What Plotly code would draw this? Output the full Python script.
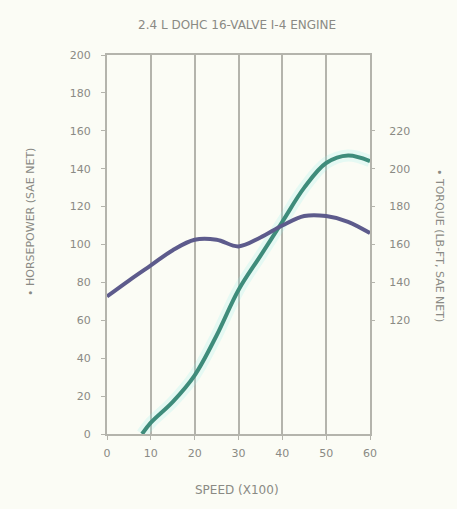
import plotly.graph_objects as go

# Data
rpm_hp = [8, 10, 15, 20, 25, 30, 35, 40, 45, 50, 55, 60]
horsepower = [0, 6, 17, 31, 52, 76, 94, 112, 130, 143, 147, 144]

rpm_tq = [0, 5, 10, 15, 20, 25, 30, 35, 40, 45, 50, 55, 60]
torque = [132.6, 141, 149, 157, 162.5, 162.5, 159, 163.7, 170, 175, 175, 172, 166]

x_ticks = [0, 10, 20, 30, 40, 50, 60]
hp_ticks = [0, 20, 40, 60, 80, 100, 120, 140, 160, 180, 200]
tq_ticks = [120, 140, 160, 180, 200, 220]

title_text = "2.4 L DOHC 16-VALVE I-4 ENGINE"
x_title = "SPEED (X100)"
hp_title = "• HORSEPOWER (SAE NET)"
tq_title = "• TORQUE (LB-FT, SAE NET)"

BG = "#fbfcf5"
GRID = "#b4b4ac"
TXT = "#8a8a84"
PURPLE = "#5d5b8c"
TEAL = "#3e8c7b"

W, H = 457, 509
L, R, T, B = 107, 87, 55, 75
PW, PH = W - L - R, H - T - B

fig = go.Figure()

# soft glow behind the horsepower line
fig.add_trace(go.Scatter(x=rpm_hp, y=horsepower, mode="lines",
                         line=dict(color="rgba(150,240,235,0.22)", width=12, shape="spline"),
                         hoverinfo="skip", showlegend=False))

fig.add_trace(go.Scatter(x=rpm_hp, y=horsepower, mode="lines", name=hp_title,
                         line=dict(color=TEAL, width=4, shape="spline"),
                         showlegend=False))
fig.add_trace(go.Scatter(x=rpm_tq, y=torque, mode="lines", name=tq_title, yaxis="y2",
                         line=dict(color=PURPLE, width=4, shape="spline"),
                         showlegend=False))

fig.update_layout(
    width=W, height=H,
    margin=dict(l=L, r=R, t=T, b=B),
    paper_bgcolor=BG, plot_bgcolor=BG,
    font=dict(family="DejaVu Sans", size=10, color=TXT),
    xaxis=dict(range=[0, 60], tickvals=x_ticks, showgrid=True, gridcolor=GRID, gridwidth=2,
               zeroline=False, showline=True, linecolor=GRID, linewidth=2, mirror=True,
               ticks="outside", ticklen=4, tickcolor=GRID, ticklabelstandoff=4,
               tickfont=dict(size=11, color=TXT)),
    yaxis=dict(range=[0, 200], tickvals=hp_ticks, showgrid=False, zeroline=False,
               showline=True, linecolor=GRID, linewidth=2, mirror=True,
               ticks="outside", ticklen=4, tickcolor=GRID, ticklabelstandoff=8,
               tickfont=dict(size=11, color=TXT)),
    yaxis2=dict(range=[60, 260], tickvals=tq_ticks, overlaying="y", side="right",
                showgrid=False, zeroline=False, showline=False,
                ticks="outside", ticklen=4, tickcolor=GRID, ticklabelstandoff=12,
                tickfont=dict(size=11, color=TXT)),
    annotations=[
        dict(text=title_text, x=(237 - L) / PW, xanchor="center", y=(H - B - 25) / PH,
             yanchor="middle", xref="paper", yref="paper", showarrow=False,
             font=dict(size=12, color=TXT)),
        dict(text=x_title, x=(237 - L) / PW, xanchor="center", y=-(490 - (H - B)) / PH,
             yanchor="middle", xref="paper", yref="paper", showarrow=False,
             font=dict(size=12, color=TXT)),
        dict(text=hp_title, textangle=-90, x=(30 - L) / PW, xanchor="center",
             y=(H - B - 222) / PH, yanchor="middle", xref="paper", yref="paper",
             showarrow=False, font=dict(size=11, color=TXT)),
        dict(text=tq_title, textangle=90, x=(440 - L) / PW, xanchor="center",
             y=(H - B - 245) / PH, yanchor="middle", xref="paper", yref="paper",
             showarrow=False, font=dict(size=11, color=TXT)),
    ],
)

fig.write_html("out.html", config={"displayModeBar": False},
               post_script="document.body.style.margin='0';document.body.style.background='%s';" % BG)
